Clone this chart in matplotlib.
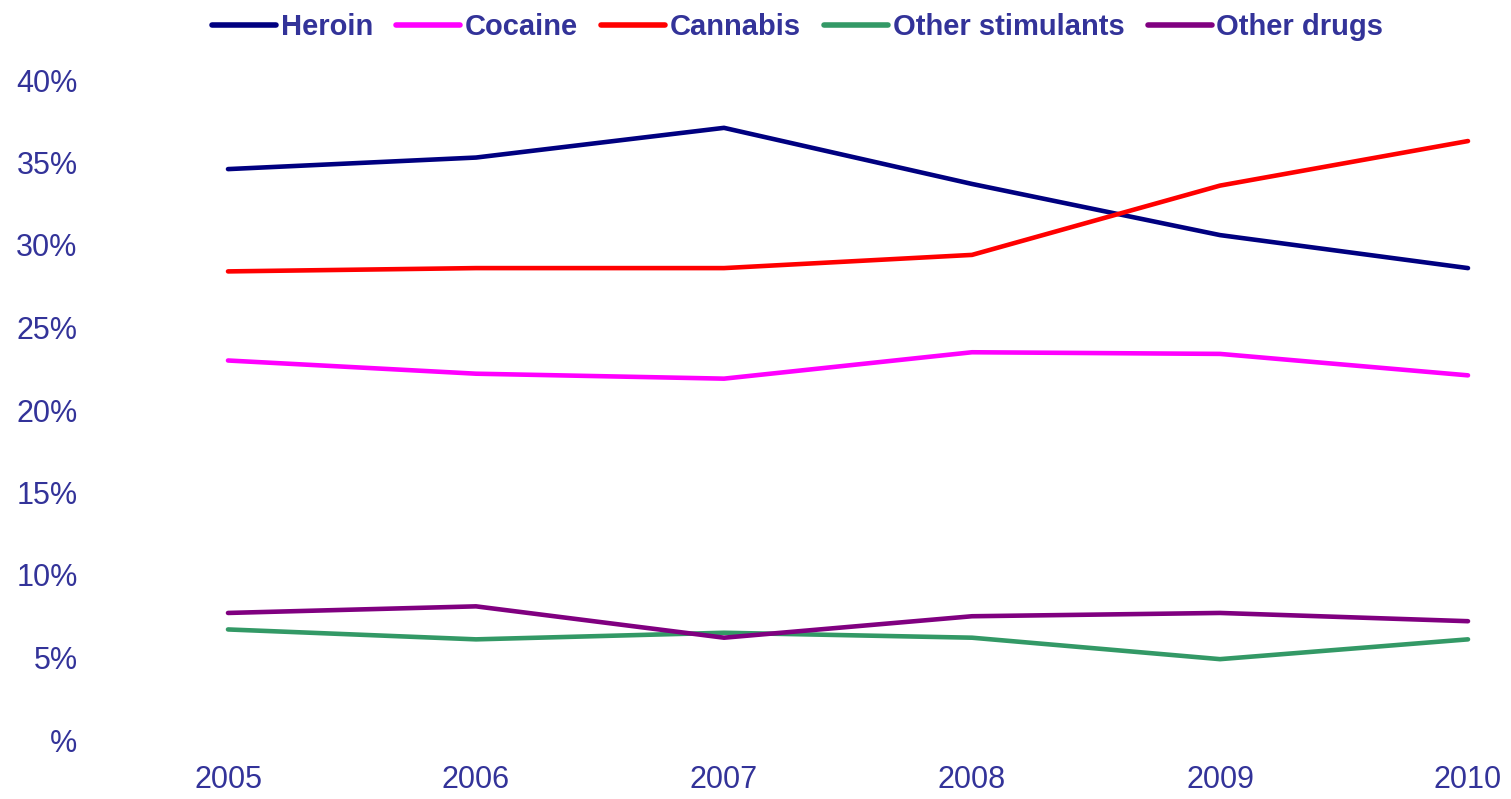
import matplotlib
matplotlib.use("Agg")
import matplotlib.pyplot as plt
from matplotlib.ticker import FuncFormatter

years = ["2005", "2006", "2007", "2008", "2009", "2010"]

heroin = [34.6, 35.3, 37.1, 33.7, 30.6, 28.6]
cocaine = [23.0, 22.2, 21.9, 23.5, 23.4, 22.1]
cannabis = [28.4, 28.6, 28.6, 29.4, 33.6, 36.3]
other_stimulants = [6.7, 6.1, 6.5, 6.2, 4.9, 6.1]
other_drugs = [7.7, 8.1, 6.2, 7.5, 7.7, 7.2]

series = [
    ("Heroin", heroin, "#000080"),
    ("Cocaine", cocaine, "#ff00ff"),
    ("Cannabis", cannabis, "#ff0000"),
    ("Other stimulants", other_stimulants, "#339966"),
    ("Other drugs", other_drugs, "#800080"),
]

text_col = "#333399"
plt.rcParams['font.family'] = ['Liberation Sans', 'DejaVu Sans']

fig = plt.figure(figsize=(15.11, 7.99), dpi=100)
ax = fig.add_axes([104 / 1511, 1 - 740 / 799, 1488 / 1511, 660 / 799])

x = list(range(len(years)))
for name, vals, col in series:
    ax.plot(x, vals, color=col, linewidth=3.3, label=name, solid_capstyle='round')

ax.set_xlim(-0.5, 5.5)
ax.set_ylim(0, 40)
ax.set_yticks(range(0, 41, 5))
ax.yaxis.set_major_formatter(FuncFormatter(lambda v, p: "%" if v == 0 else "%d%%" % v))
ax.set_xticks(x)
ax.set_xticklabels(years)
ax.tick_params(axis='both', length=0, labelsize=22, labelcolor=text_col)
ax.tick_params(axis='y', pad=19)
ax.tick_params(axis='x', pad=18)
for s in ax.spines.values():
    s.set_visible(False)

leg = fig.legend(loc='upper center', bbox_to_anchor=(0.528, 1.016), ncol=5, frameon=False,
                 handlelength=2.2, handletextpad=0.15, columnspacing=0.8,
                 prop={'family': ['Liberation Sans Narrow', 'Liberation Sans'], 'weight': 'bold', 'size': 21})
for t in leg.get_texts():
    t.set_color(text_col)
for h in leg.get_lines():
    h.set_linewidth(4)

fig.savefig("out.png", dpi=100)
